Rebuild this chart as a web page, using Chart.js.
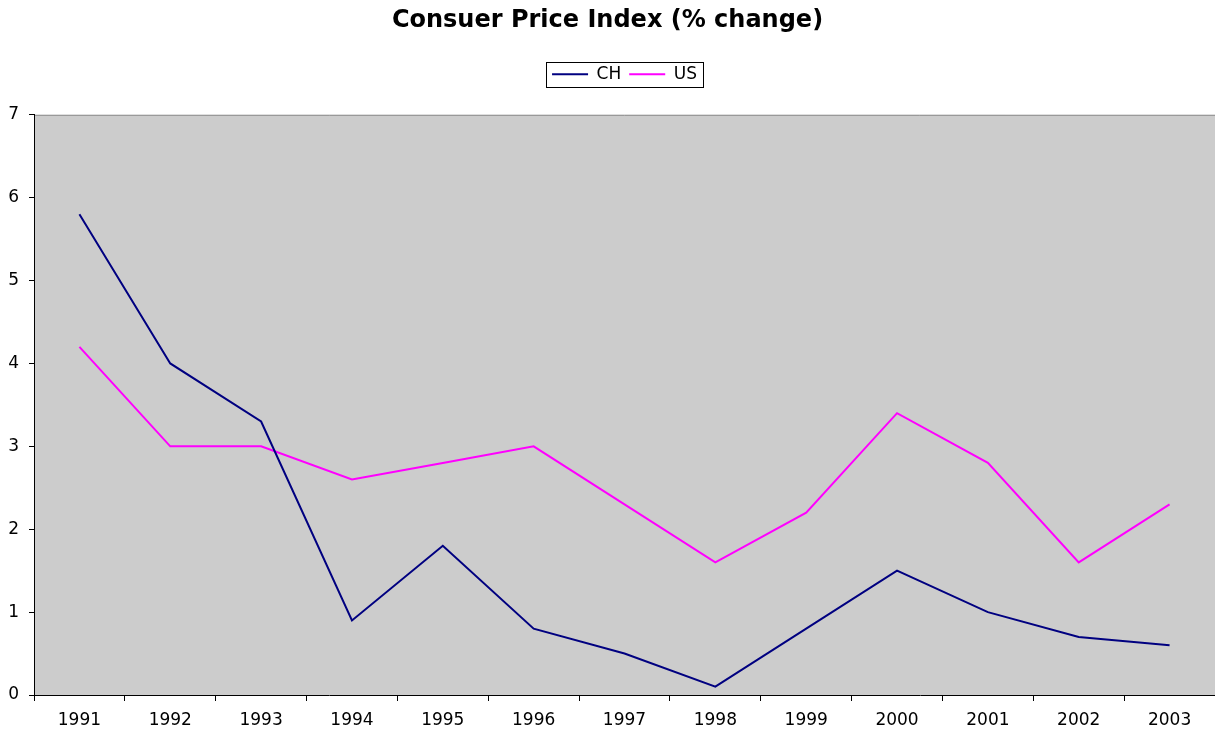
<!DOCTYPE html>
<html>
<head>
<meta charset="utf-8">
<script src="https://cdn.jsdelivr.net/npm/chart.js@4"></script>
<style>
  html, body { margin: 0; padding: 0; background: #fff; }
  #wrap { width: 1215px; height: 734px; }
</style>
</head>
<body>
<div id="wrap"><canvas id="cpiChart"></canvas></div>
<script>
// data
var years = ['1991','1992','1993','1994','1995','1996','1997','1998','1999','2000','2001','2002','2003'];
var chValues = [5.8, 4.0, 3.3, 0.9, 1.8, 0.8, 0.5, 0.1, 0.8, 1.5, 1.0, 0.7, 0.6];
var usValues = [4.2, 3.0, 3.0, 2.6, 2.8, 3.0, 2.3, 1.6, 2.2, 3.4, 2.8, 1.6, 2.3];
var yTicks = [0, 1, 2, 3, 4, 5, 6, 7];

var FONT = "'DejaVu Sans', Verdana, sans-serif";

// gray plot area + frame, a box round the legend, extra room under the legend
var plotBg = {
  id: 'plotBg',
  beforeUpdate: function(chart) {
    var lg = chart.legend;
    if (lg && !lg._padded) {
      var origFit = lg.fit;
      lg.fit = function() {
        origFit.apply(this, arguments);
        this.height += 22;
      };
      lg._padded = true;
    }
  },
  beforeDraw: function(chart) {
    var a = chart.chartArea, ctx = chart.ctx;
    ctx.save();
    ctx.fillStyle = '#cccccc';
    ctx.fillRect(a.left, a.top, a.right - a.left, a.bottom - a.top);
    ctx.strokeStyle = '#8c8c8c';
    ctx.lineWidth = 1;
    ctx.beginPath();
    ctx.moveTo(a.left, a.top + 0.5);
    ctx.lineTo(a.right, a.top + 0.5);
    ctx.stroke();
    ctx.restore();
  },
  afterDraw: function(chart) {
    var lg = chart.legend, ctx = chart.ctx;
    if (!lg || !lg.legendHitBoxes.length) return;
    var first = lg.legendHitBoxes[0], last = lg.legendHitBoxes[lg.legendHitBoxes.length - 1];
    var x1 = first.left - 6, x2 = last.left + last.width + 6;
    var y1 = first.top - 4, y2 = first.top + first.height + 4;
    ctx.save();
    ctx.strokeStyle = '#000';
    ctx.lineWidth = 1;
    ctx.strokeRect(Math.round(x1) + 0.5, Math.round(y1) + 0.5, Math.round(x2 - x1), Math.round(y2 - y1));
    ctx.restore();
  }
};

var ctx = document.getElementById('cpiChart');
var cpiChart = new Chart(ctx, {
  type: 'line',
  data: {
    labels: years,
    datasets: [{
      label: 'CH',
      data: chValues,
      borderColor: '#000080',
      backgroundColor: '#000080',
      borderWidth: 2,
      pointRadius: 0,
      tension: 0
    }, {
      label: 'US',
      data: usValues,
      borderColor: '#ff00ff',
      backgroundColor: '#ff00ff',
      borderWidth: 2,
      pointRadius: 0,
      tension: 0
    }]
  },
  options: {
    responsive: true,
    maintainAspectRatio: false,
    animation: false,
    layout: { padding: { left: 0, right: 0, top: 0, bottom: 0 } },
    plugins: {
      title: {
        display: true,
        text: 'Consuer Price Index (% change)',
        color: '#000',
        font: { family: FONT, size: 24, weight: 'bold' },
        padding: { top: 6, bottom: 23 }
      },
      legend: {
        display: true,
        position: 'top',
        fullSize: false,
        labels: {
          color: '#000',
          font: { family: FONT, size: 17 },
          usePointStyle: true,
          pointStyle: 'line',
          pointStyleWidth: 36,
          boxWidth: 36,
          boxHeight: 2,
          padding: 8
        }
      },
      tooltip: { enabled: false }
    },
    scales: {
      x: {
        offset: true,
        afterFit: function(scale) { scale.height = 39; },
        grid: {
          offset: true,
          drawOnChartArea: false,
          drawTicks: true,
          tickLength: 6,
          color: '#000'
        },
        border: { display: true, color: '#000', width: 1 },
        ticks: {
          color: '#000',
          font: { family: FONT, size: 17 },
          padding: 9,
          maxRotation: 0
        }
      },
      y: {
        min: 0,
        max: 7,
        afterFit: function(scale) { scale.width = 34; },
        afterBuildTicks: function(scale) {
          scale.ticks = yTicks.map(function(v) { return { value: v }; });
        },
        grid: {
          drawOnChartArea: false,
          drawTicks: true,
          tickLength: 5,
          color: '#000'
        },
        border: { display: true, color: '#000', width: 1 },
        ticks: {
          color: '#000',
          font: { family: FONT, size: 17 },
          padding: 10
        }
      }
    }
  },
  plugins: [plotBg]
});
</script>
</body>
</html>
